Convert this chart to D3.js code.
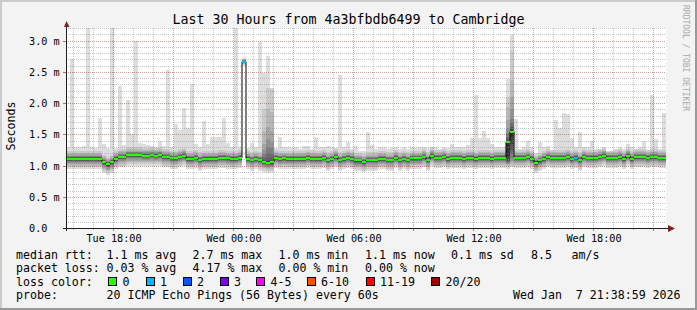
<!DOCTYPE html>
<html>
<head>
<meta charset="utf-8">
<script src="https://cdn.jsdelivr.net/npm/d3@7"></script>
<style>
  html, body { margin: 0; padding: 0; background: #fff; }
  svg { display: block; }
  text { font-family: "DejaVu Sans Mono", monospace; fill: #000; }
</style>
</head>
<body>
<svg id="chart" width="697" height="310"></svg>
<script>
// ---- data (ms), one value per 12 minute step, 150 steps = 30 hours ----
const median = [
  1.11,1.11,1.11,1.11,1.11,1.11,1.11,1.11,1.11,1.055,
  1.02,1.055,1.11,1.14,1.14,1.17,1.17,1.17,1.17,1.16,
  1.16,1.17,1.16,1.17,1.14,1.14,1.12,1.12,1.14,1.16,
  1.11,1.11,1.125,1.09,1.11,1.11,1.11,1.11,1.125,1.125,
  1.115,1.11,1.11,1.125,2.66,1.11,1.09,1.11,1.09,1.06,
  1.045,1.055,1.125,1.11,1.115,1.11,1.11,1.11,1.11,1.11,
  1.125,1.11,1.11,1.11,1.125,1.09,1.11,1.14,1.09,1.11,
  1.125,1.11,1.08,1.08,1.06,1.09,1.09,1.09,1.11,1.11,
  1.09,1.09,1.125,1.09,1.11,1.09,1.115,1.115,1.115,1.14,
  1.09,1.16,1.125,1.125,1.14,1.11,1.125,1.125,1.125,1.11,
  1.125,1.125,1.11,1.125,1.125,1.125,1.11,1.125,1.125,1.125,
  1.38,1.54,1.125,1.125,1.125,1.14,1.11,1.045,1.08,1.11,
  1.14,1.125,1.125,1.125,1.125,1.14,1.11,1.125,1.09,1.14,
  1.125,1.125,1.125,1.14,1.16,1.125,1.125,1.125,1.14,1.11,
  1.16,1.11,1.14,1.14,1.14,1.125,1.14,1.14,1.125,1.125
];
const pingMax = [
  1.30,2.71,1.30,1.30,1.31,3.30,1.30,1.28,1.76,1.34,
  1.28,3.30,1.28,2.27,1.33,2.05,1.50,3.00,1.36,1.35,
  1.33,1.31,1.30,1.40,1.31,2.53,1.30,1.66,1.57,1.92,
  1.60,2.30,1.34,1.30,1.71,1.34,1.46,1.46,1.46,1.76,
  1.36,1.29,3.30,1.29,2.72,1.28,1.36,1.29,2.98,2.48,
  2.75,2.24,1.28,1.46,1.29,1.29,1.28,1.30,1.26,1.31,
  1.31,1.26,1.46,1.29,1.29,1.31,1.29,1.28,2.45,1.29,
  1.38,1.26,1.31,1.23,1.23,1.53,1.33,1.26,1.29,1.30,
  1.26,1.28,1.30,1.27,1.29,1.26,1.30,1.28,1.30,1.30,
  1.28,1.29,1.30,1.27,1.30,1.28,1.34,1.29,1.30,1.29,
  1.33,1.44,2.13,1.44,1.55,1.44,1.34,1.29,1.30,1.29,
  2.38,3.09,1.74,1.26,1.30,1.40,1.30,1.20,1.38,1.30,
  1.32,1.25,1.73,1.60,1.84,1.82,1.44,1.29,1.53,1.29,
  1.29,1.40,1.26,1.26,1.29,1.23,1.23,1.26,1.29,1.26,
  1.34,1.29,1.26,1.29,1.40,1.25,2.13,1.42,1.26,1.84
];
// typical spread of the 20 sorted pings around the median (ms), band 1 = outermost
const smokeTopOffset    = [null, 0.12, 0.09, 0.07, 0.05, 0.04, 0.03, 0.02, 0.015, 0.01];
const smokeBottomOffset = [0.17, 0.14, 0.11, 0.09, 0.07, 0.05, 0.04, 0.03, 0.02, 0.01];
// steps whose smoke does not follow the typical spread
const spikeSteps = [44, 49, 50, 51, 110, 111];
const spikeTops = [
  [2.72, 2.71, 2.70, 2.695, 2.69, 2.685, 2.68, 2.675, 2.67, 2.665],
  [2.48, 1.90, 1.55, 1.35, 1.25, 1.18, 1.13, 1.10, 1.08, 1.07],
  [2.75, 2.24, 1.90, 1.62, 1.42, 1.30, 1.20, 1.12, 1.08, 1.06],
  [2.24, 2.22, 1.85, 1.55, 1.38, 1.28, 1.18, 1.12, 1.08, 1.065],
  [2.38, 2.10, 1.94, 1.73, 1.60, 1.52, 1.46, 1.42, 1.40, 1.39],
  [3.09, 2.85, 2.37, 2.10, 1.90, 1.75, 1.68, 1.62, 1.58, 1.56]
];
const spikeBottoms = [
  [2.60, 2.62, 2.63, 2.64, 2.645, 2.65, 2.652, 2.655, 2.657, 2.66],
  [0.90, 0.93, 0.96, 0.98, 1.00, 1.01, 1.02, 1.03, 1.04, 1.05],
  [0.88, 0.91, 0.94, 0.96, 0.98, 1.00, 1.01, 1.02, 1.03, 1.04],
  [0.89, 0.92, 0.95, 0.97, 0.99, 1.00, 1.01, 1.02, 1.03, 1.045],
  [0.95, 0.98, 1.00, 1.02, 1.03, 1.04, 1.05, 1.07, 1.10, 1.15],
  [0.97, 1.00, 1.02, 1.05, 1.08, 1.12, 1.18, 1.25, 1.35, 1.45]
];
const lossSteps = [44, 127];
const lossCounts = [1, 1];

const lossLabels = ['0', '1', '2', '3', '4-5', '6-10', '11-19', '20/20'];
const lossColors = ['#26ff00', '#00b8ff', '#0059ff', '#7e00ff', '#ff00ff', '#ff5500', '#ff0000', '#a00000'];

const yTicks = [0, 0.5, 1.0, 1.5, 2.0, 2.5, 3.0];
const statRtt  = ['1.1 ms avg', '2.7 ms max', '1.0 ms min', '1.1 ms now', '0.1 ms sd', '8.5', 'am/s'];
const statLoss = ['0.03 % avg', '4.17 % max', '0.00 % min', '0.00 % now'];

const title = 'Last 30 Hours from 4a3bfbdb6499 to Cambridge';
const probeText = '20 ICMP Echo Pings (56 Bytes) every 60s';
const stampText = 'Wed Jan  7 21:38:59 2026';

// ---- layout ----
const W = 697, H = 310;
const margin = {left: 66, right: 31, top: 28, bottom: 82};
const start = new Date(Date.UTC(2026, 0, 6, 15, 38, 59));
const end = new Date(+start + 30 * 3600 * 1000);
const stepMs = 12 * 60 * 1000;

const x = d3.scaleUtc().domain([start, end]).range([margin.left, W - margin.right]);
const y = d3.scaleLinear().domain([0, 3.2]).range([H - margin.bottom, margin.top]);

const svg = d3.select('#chart');

// background and 3d frame
svg.append('rect').attr('width', W).attr('height', H).attr('fill', '#f3f3f3');
svg.append('rect').attr('x', 0).attr('y', 0).attr('width', W).attr('height', 2).attr('fill', '#cbcbcb');
svg.append('rect').attr('x', 0).attr('y', 0).attr('width', 2).attr('height', H).attr('fill', '#cbcbcb');
svg.append('rect').attr('x', 0).attr('y', H - 2).attr('width', W).attr('height', 2).attr('fill', '#999');
svg.append('rect').attr('x', W - 2).attr('y', 0).attr('width', 2).attr('height', H).attr('fill', '#999');

// canvas
const x0 = x.range()[0], x1 = x.range()[1];
const yTop = y.range()[1], yBot = y.range()[0];
svg.append('rect').attr('x', x0).attr('y', yTop).attr('width', x1 - x0).attr('height', yBot - yTop).attr('fill', '#fff');

svg.append('clipPath').attr('id', 'plotclip')
  .append('rect').attr('x', x0).attr('y', yTop).attr('width', x1 - x0).attr('height', yBot - yTop);

// ---- smoke ----
const steps = median.map((m, i) => {
  const s = spikeSteps.indexOf(i);
  const tops = [], bots = [];
  for (let k = 0; k < 10; k++) {
    if (s >= 0) {
      tops.push(spikeTops[s][k]);
      bots.push(spikeBottoms[s][k]);
    } else {
      tops.push(k === 0 ? pingMax[i] : Math.min(m + smokeTopOffset[k], pingMax[i]));
      bots.push(m - smokeBottomOffset[k]);
    }
  }
  const li = lossSteps.indexOf(i);
  return {t: new Date(+start + i * stepMs), med: m, tops, bots, loss: li >= 0 ? lossCounts[li] : 0};
});
const stepsEnd = steps.concat([Object.assign({}, steps[steps.length - 1], {t: end})]);

const plot = svg.append('g').attr('clip-path', 'url(#plotclip)');

for (let k = 0; k < 10; k++) {
  const grey = Math.floor(190 / 10 * (10 - (k + 1))) + 50;
  const area = d3.area()
    .curve(d3.curveStepAfter)
    .x(d => x(d.t))
    .y0(d => y(d.bots[k]))
    .y1(d => y(d.tops[k]));
  plot.append('path')
    .datum(stepsEnd)
    .attr('d', area)
    .attr('fill', d3.rgb(grey, grey, grey))
    .attr('shape-rendering', 'crispEdges');
}

// median line
const medLine = d3.line().curve(d3.curveStepAfter).x(d => x(d.t)).y(d => y(d.med));
plot.append('path')
  .datum(stepsEnd)
  .attr('d', medLine)
  .attr('fill', 'none')
  .attr('stroke', '#000')
  .attr('stroke-width', 1);

// loss coloured ticks
const lossColor = d3.scaleThreshold().domain([1, 2, 3, 4, 6, 11, 20]).range(lossColors);
plot.selectAll('rect.tick')
  .data(steps)
  .enter()
  .append('rect')
  .attr('class', 'tick')
  .attr('x', d => x(d.t))
  .attr('width', d => x(new Date(+d.t + stepMs)) - x(d.t))
  .attr('y', d => Math.round(y(d.med)) - 1)
  .attr('height', 2)
  .attr('fill', d => lossColor(d.loss));

// ---- grid ----
const grid = svg.append('g').attr('shape-rendering', 'crispEdges');
const hours = d3.utcHour.range(start, end);
grid.selectAll('line.vg')
  .data(hours)
  .enter()
  .append('line')
  .attr('x1', d => x(d) + 0.5).attr('x2', d => x(d) + 0.5)
  .attr('y1', yTop).attr('y2', yBot)
  .attr('stroke', d => d.getUTCHours() % 3 === 0 ? 'rgba(130,30,30,0.42)' : 'rgba(140,140,140,0.5)')
  .attr('stroke-dasharray', '1,1');

const hVals = d3.range(1, 33);
grid.selectAll('line.hg')
  .data(hVals)
  .enter()
  .append('line')
  .attr('x1', x0).attr('x2', x1)
  .attr('y1', d => Math.round(y(d / 10)) + 0.5).attr('y2', d => Math.round(y(d / 10)) + 0.5)
  .attr('stroke', d => d % 5 === 0 ? 'rgba(130,30,30,0.42)' : 'rgba(140,140,140,0.5)')
  .attr('stroke-dasharray', '1,1');

// axis ticks
grid.selectAll('line.xt')
  .data(hours)
  .enter()
  .append('line')
  .attr('x1', d => x(d) + 0.5).attr('x2', d => x(d) + 0.5)
  .attr('y1', yBot).attr('y2', d => d.getUTCHours() % 3 === 0 ? yBot + 3 : yBot + 2)
  .attr('stroke', d => d.getUTCHours() % 3 === 0 ? 'rgba(130,30,30,0.6)' : 'rgba(140,140,140,0.6)');
grid.selectAll('line.yt')
  .data(yTicks)
  .enter()
  .append('line')
  .attr('x1', x0 - 3).attr('x2', x0)
  .attr('y1', d => Math.round(y(d)) + 0.5).attr('y2', d => Math.round(y(d)) + 0.5)
  .attr('stroke', 'rgba(130,30,30,0.6)');

// axes with arrows
const axisG = svg.append('g').attr('shape-rendering', 'crispEdges');
axisG.append('line').attr('x1', x0 - 3).attr('x2', x1 + 3)
  .attr('y1', yBot + 0.5).attr('y2', yBot + 0.5).attr('stroke', '#1f1f1f');
axisG.append('line').attr('x1', x0 + 0.5).attr('x2', x0 + 0.5)
  .attr('y1', yBot + 3).attr('y2', yTop - 2).attr('stroke', '#1f1f1f');
svg.append('path')
  .attr('d', `M${x1 + 2},${yBot - 3} L${x1 + 9},${yBot + 0.5} L${x1 + 2},${yBot + 4} Z`)
  .attr('fill', '#7f1f1f');
svg.append('path')
  .attr('d', `M${x0 - 2},${yTop - 1} L${x0 + 0.5},${yTop - 7} L${x0 + 3.5},${yTop - 1} Z`)
  .attr('fill', '#7f1f1f');

// ---- labels ----
svg.append('g').selectAll('text')
  .data(hours.filter(d => d.getUTCHours() % 6 === 0))
  .enter()
  .append('text')
  .attr('x', d => x(d) + 1)
  .attr('y', yBot + 14)
  .attr('text-anchor', 'middle')
  .style('font-size', '10.2px')
  .text(d3.utcFormat('%a %H:%M'));

svg.append('g').selectAll('text')
  .data(yTicks)
  .enter()
  .append('text')
  .attr('x', 29)
  .attr('y', d => Math.round(y(d)) + 4)
  .style('font-size', '10.2px')
  .style('white-space', 'pre')
  .text(d => d === 0 ? '0.0' : d3.format('.1f')(d) + ' m');

svg.append('text')
  .attr('transform', `translate(15,${(yTop + yBot) / 2 - 2}) rotate(-90)`)
  .attr('text-anchor', 'middle')
  .style('font-size', '11.6px')
  .text('Seconds');

svg.append('text')
  .attr('x', W / 2)
  .attr('y', 24)
  .attr('text-anchor', 'middle')
  .style('font-size', '13.3px')
  .text(title);

svg.append('text')
  .attr('transform', 'translate(683,5) rotate(90)')
  .style('font-size', '8px')
  .style('fill', '#a8a8a8')
  .text('RRDTOOL / TOBI OETIKER');

// ---- legend ----
const leg = svg.append('g').style('font-size', '11.6px');
const rowY = [258.5, 272, 285.5, 299];
const statX = [106.5, 192.5, 278.5, 365, 451, 531, 571.5];

leg.append('text').attr('x', 16).attr('y', rowY[0]).text('median rtt:');
statRtt.forEach((s, i) => leg.append('text').attr('x', statX[i]).attr('y', rowY[0]).text(s));

leg.append('text').attr('x', 16).attr('y', rowY[1]).text('packet loss:');
statLoss.forEach((s, i) => leg.append('text').attr('x', statX[i]).attr('y', rowY[1]).text(s));

leg.append('text').attr('x', 16).attr('y', rowY[2]).text('loss color:');
const boxX = [108, 145.5, 182.5, 219.5, 256, 306.5, 365.5, 431];
lossLabels.forEach((lab, i) => {
  leg.append('rect')
    .attr('x', boxX[i] + 0.5).attr('y', rowY[2] - 8)
    .attr('width', 8).attr('height', 8)
    .attr('fill', lossColors[i]).attr('stroke', '#000').attr('stroke-width', 1)
    .attr('shape-rendering', 'crispEdges');
  leg.append('text').attr('x', boxX[i] + 14.5).attr('y', rowY[2]).text(lab);
});

leg.append('text').attr('x', 16).attr('y', rowY[3]).text('probe:');
leg.append('text').attr('x', statX[0]).attr('y', rowY[3]).text(probeText);
leg.append('text').attr('x', 513).attr('y', rowY[3]).style('white-space', 'pre').text(stampText);
</script>
</body>
</html>
